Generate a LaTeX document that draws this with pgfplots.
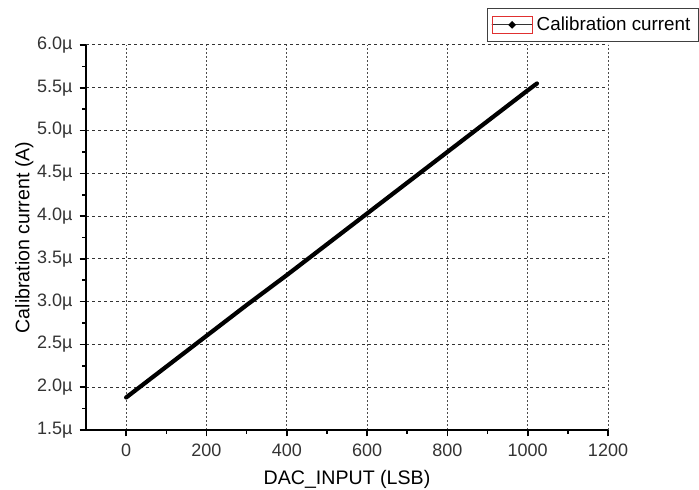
\documentclass[border=0pt]{standalone}
\usepackage{fontspec}
\setmainfont{Liberation Sans}
\usepackage{pgfplots}
\pgfplotsset{compat=1.18}
\definecolor{tickgray}{HTML}{333333}
\definecolor{legred}{HTML}{E03030}
\begin{document}
\begin{tikzpicture}
\path[use as bounding box] (0,0) rectangle (349.5pt,245pt);
\begin{axis}[
  at={(43pt,30pt)}, anchor=south west,
  scale only axis, width=261pt, height=192.5pt,
  xmin=-100, xmax=1200, ymin=1.5, ymax=6.0,
  axis lines=left,
  axis line style={-, line width=0.9pt, black},
  xtick={0,200,...,1200},
  ytick={1.5,2.0,...,6.0},
  minor x tick num=1, minor y tick num=1,
  tick align=outside,
  major tick length=3.2pt, minor tick length=1.8pt,
  tick style={line width=0.8pt, black},
  /pgf/number format/assume math mode=true,
  /pgf/number format/set thousands separator={},
  tick label style={font=\fontsize{9}{10}\selectfont, text=tickgray},
  yticklabel={\pgfmathprintnumber[fixed,fixed zerofill,precision=1]{\tick}µ},
  xticklabel={\pgfmathprintnumber[fixed,precision=0]{\tick}},
  grid=major,
  x grid style={black!70, line width=0.5pt, dash pattern=on 0.8pt off 1.2pt},
  y grid style={black!80, line width=0.5pt, dash pattern=on 1.6pt off 1.4pt},
  xlabel={DAC\_INPUT (LSB)},
  ylabel={Calibration current (A)},
  label style={font=\fontsize{9.8}{11}\selectfont},
  xlabel style={yshift=0pt},
  ylabel style={yshift=-5pt},
  clip=false,
  legend style={at={(rel axis cs:1.174,1.096)}, anchor=north east,
    draw=black!75, line width=0.5pt, inner sep=2pt,
    font=\fontsize{9.4}{11}\selectfont, cells={anchor=west}},
  legend image code/.code={
    \draw[black!80, line width=0.6pt] (0pt,0pt) -- (20pt,0pt);
    \fill[black] (10pt,0pt) circle (0.45pt);
    \draw[draw=legred, line width=0.6pt] (0pt,-4.2pt) rectangle (20pt,4.2pt);
  },
]
\addplot[black, line width=2.1pt, line cap=round] coordinates {
  (0,1.88) (100,2.24) (200,2.60) (300,2.96) (400,3.31) (500,3.67)
  (600,4.03) (700,4.39) (800,4.75) (900,5.11) (1000,5.47) (1023,5.55)
};
\addlegendentry{Calibration current}
\end{axis}
\end{tikzpicture}
\end{document}
